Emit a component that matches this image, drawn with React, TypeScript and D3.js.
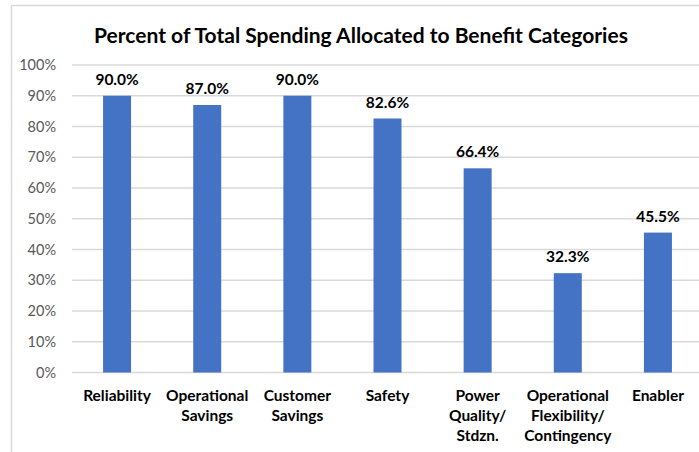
import React from "react";
import * as d3 from "d3";

const categories = [
  "Reliability",
  "Operational\nSavings",
  "Customer\nSavings",
  "Safety",
  "Power\nQuality/\nStdzn.",
  "Operational\nFlexibility/\nContingency",
  "Enabler",
];
const values = [90.0, 87.0, 90.0, 82.6, 66.4, 32.3, 45.5];
const yTicks = [0, 10, 20, 30, 40, 50, 60, 70, 80, 90, 100];
const title = "Percent of Total Spending Allocated to Benefit Categories";

const W = 699;
const H = 452;
const FONT = "Lato, 'Open Sans', sans-serif";

export default function App() {
  const x = d3.scaleBand<number>().domain(d3.range(categories.length)).range([72, 703]).paddingInner(0.69).paddingOuter(0.345);
  const y = d3.scaleLinear().domain([0, 100]).range([372.5, 65]);
  const bw = 28;

  return (
    <svg width={W} height={H} style={{ position: "absolute", left: 0, top: 0, background: "#fff" }}>
      <rect x={0} y={0} width={W} height={H} fill="#fff" />
      <line x1={11} x2={W} y1={5.5} y2={5.5} stroke="#d9d9d9" strokeWidth={1.5} />
      <line x1={11.5} x2={11.5} y1={5} y2={H} stroke="#d9d9d9" strokeWidth={1.5} />
      <text x={361} y={43} textAnchor="middle" fontFamily={FONT} fontWeight="bold" fontSize={21} fill="#000">
        {title}
      </text>
      {yTicks.map((t) => (
        <g key={t}>
          <line x1={72} x2={W} y1={y(t)} y2={y(t)} stroke="#d9d9d9" strokeWidth={1.5} />
          <text x={56} y={y(t) + 5} textAnchor="end" fontFamily={FONT} fontSize={14.5} fill="#595959">
            {t}%
          </text>
        </g>
      ))}
      {values.map((v, i) => {
        const cx = (x(i) as number) + x.bandwidth() / 2;
        return (
          <g key={i}>
            <rect x={cx - bw / 2} y={y(v)} width={bw} height={y(0) - y(v)} fill="#4472C4" />
            <text x={cx} y={y(v) - 11} textAnchor="middle" fontFamily={FONT} fontWeight="bold" fontSize={15.5} fill="#000">
              {v.toFixed(1)}%
            </text>
            {categories[i].split("\n").map((ln, j) => (
              <text key={j} x={cx} y={401 + j * 20} textAnchor="middle" fontFamily={FONT} fontWeight="bold" fontSize={15.5} fill="#000">
                {ln}
              </text>
            ))}
          </g>
        );
      })}
    </svg>
  );
}
